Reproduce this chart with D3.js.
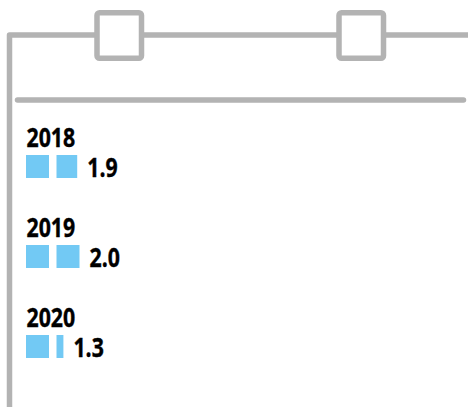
<!DOCTYPE html>
<html>
<head>
<meta charset="utf-8">
<script src="https://cdn.jsdelivr.net/npm/d3@7"></script>
<style>
  html, body { margin: 0; padding: 0; background: #fff; }
  svg { display: block; }
</style>
</head>
<body>
<svg id="chart" width="468" height="407"></svg>
<script>
// Yearly values, one unit square per whole unit
const years = ["2018", "2019", "2020"];
const values = [1.9, 2.0, 1.3];

const W = 468, H = 407;
const frameColor = "#b3b3b3";
const unitColor = "#72c9f4";
const svg = d3.select("#chart");

// Decorative frame: left rail, top rail with two tabs, divider line
const frame = svg.append("g")
  .attr("fill", "none")
  .attr("stroke", frameColor)
  .attr("stroke-width", 5.5);

frame.append("path")
  .attr("d", `M9.5,${H + 5} V35 H${W + 5}`)
  .attr("stroke-linejoin", "round");

[97, 339].forEach(x => {
  frame.append("rect")
    .attr("x", x).attr("y", 12.8)
    .attr("width", 44.5).attr("height", 45.5)
    .attr("rx", 2.5)
    .attr("fill", "#fff");
});

frame.append("path")
  .attr("d", "M17.5,100 H463.5")
  .attr("stroke-linecap", "round");

// Row positions (label baselines)
const y = d3.scalePoint().domain(years).range([147, 327]);

// Unit geometry: each unit is one square; pitch between squares
const unitSize = 23, unitPitch = 30.5, x0 = 26;
const unitX = d3.scaleLinear().domain([0, 1]).range([x0, x0 + unitPitch]);
const unitW = d3.scaleLinear().domain([0, 1]).range([0, unitSize]);

const rows = svg.append("g").selectAll("g.row")
  .data(years.map((yr, i) => ({ year: yr, value: values[i] })))
  .join("g")
  .attr("class", "row")
  .attr("transform", d => `translate(0,${y(d.year)})`);

const fontFamily = "'Open Sans', 'Noto Sans', sans-serif";
const condense = 0.82;

// Bold condensed label at (x, y)
function label(g, x, yy, txt) {
  g.append("text")
    .attr("transform", `translate(${x},${yy}) scale(${condense},1)`)
    .attr("font-family", fontFamily)
    .attr("font-weight", 700)
    .attr("font-size", 26)
    .attr("fill", "#000")
    .attr("stroke", "#000")
    .attr("stroke-width", 0.4)
    .text(txt);
}

rows.each(function(d) {
  const g = d3.select(this);
  label(g, x0 + 0.5, 0, d.year);

  const units = [];
  let remaining = d.value;
  let i = 0;
  while (remaining > 1e-9) {
    const frac = Math.min(1, remaining);
    units.push({ i, frac });
    remaining = +(remaining - frac).toFixed(6);
    i++;
  }
  g.selectAll("rect.unit")
    .data(units)
    .join("rect")
    .attr("class", "unit")
    .attr("x", u => unitX(u.i))
    .attr("y", 8)
    .attr("width", u => unitW(u.frac))
    .attr("height", unitSize)
    .attr("fill", unitColor);

  const last = units[units.length - 1];
  const endX = unitX(last.i) + unitW(last.frac);
  label(g, endX + 10, 30, d3.format(".1f")(d.value));
});
</script>
</body>
</html>
